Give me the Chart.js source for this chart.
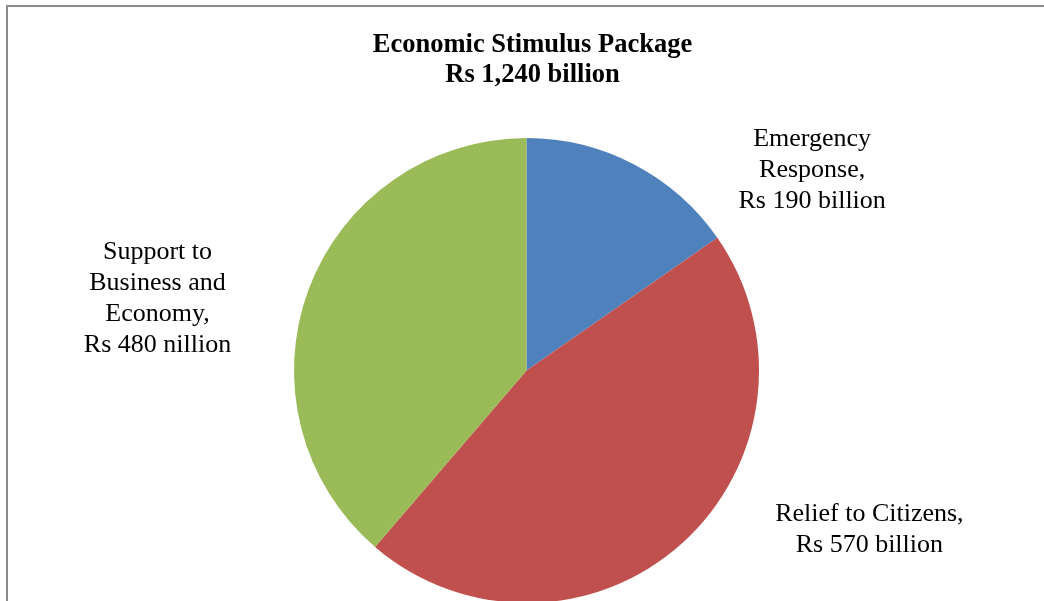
<!DOCTYPE html>
<html>
<head>
<meta charset="utf-8">
<script src="https://cdn.jsdelivr.net/npm/chart.js@4.4.1/dist/chart.umd.min.js"></script>
<style>
  html, body { margin: 0; padding: 0; background: #fff; overflow: hidden; }
  #wrap { position: absolute; left: 0; top: 0; width: 1044px; height: 620px; }
  #frame { position: absolute; left: 6px; top: 5px; width: 1100px; height: 700px;
           border-left: 2px solid #8c8c8c; border-top: 2px solid #8c8c8c; pointer-events: none; }
</style>
</head>
<body>
<div id="wrap"><canvas id="pie"></canvas></div>
<div id="frame"></div>
<script>
// data
const categories = ['Emergency Response', 'Relief to Citizens', 'Support to Business and Economy'];
const values = [190, 570, 480];
const sliceLabels = [
    ['Emergency', 'Response,', 'Rs 190 billion'],
    ['Relief to Citizens,', 'Rs 570 billion'],
    ['Support to', 'Business and', 'Economy,', 'Rs 480 nillion']
];
const titleLines = ['Economic Stimulus Package', 'Rs 1,240 billion'];

/*==========| colors |========== */
const colors = ['#4f81bd', '#c0504d', '#9bbb59'];
const serif = "'Liberation Serif', 'Times New Roman', serif";

// label offsets from the outer edge of each slice (mid angle)
const labelOffsets = [[178, 6], [187, -13], [-151, 9]];

const textPlugin = {
    id: 'textPlugin',
    afterDraw(chart) {
        const ctx = chart.ctx;
        const meta = chart.getDatasetMeta(0);
        ctx.save();
        ctx.fillStyle = '#000';
        ctx.textAlign = 'center';
        ctx.textBaseline = 'middle';

        // title, a bit right of the pie centre like the original
        ctx.font = 'bold 26.5px ' + serif;
        const tx = (chart.chartArea.left + chart.chartArea.right) / 2 + 6;
        titleLines.forEach((t, k) => ctx.fillText(t, tx, 45 + k * 30));

        // slice labels
        ctx.font = '26px ' + serif;
        const lh = 31;
        meta.data.forEach((arc, i) => {
            const mid = (arc.startAngle + arc.endAngle) / 2;
            const px = arc.x + Math.cos(mid) * arc.outerRadius + labelOffsets[i][0];
            const py = arc.y + Math.sin(mid) * arc.outerRadius + labelOffsets[i][1];
            const lines = sliceLabels[i];
            const y0 = py - (lines.length - 1) * lh / 2;
            lines.forEach((t, k) => ctx.fillText(t, px, y0 + k * lh));
        });
        ctx.restore();
    }
};

let chart = new Chart(document.getElementById('pie'), {
    type: 'pie',
    data: {
        labels: categories,
        datasets: [{
            data: values,
            backgroundColor: colors,
            borderWidth: 0
        }]
    },
    options: {
        responsive: true,
        maintainAspectRatio: false,
        animation: false,
        layout: {
            padding: { left: 294, right: 285, top: 138, bottom: 17 }
        },
        plugins: {
            legend: { display: false },
            tooltip: { enabled: false },
            title: { display: false }
        }
    },
    plugins: [textPlugin]
});
</script>
</body>
</html>
